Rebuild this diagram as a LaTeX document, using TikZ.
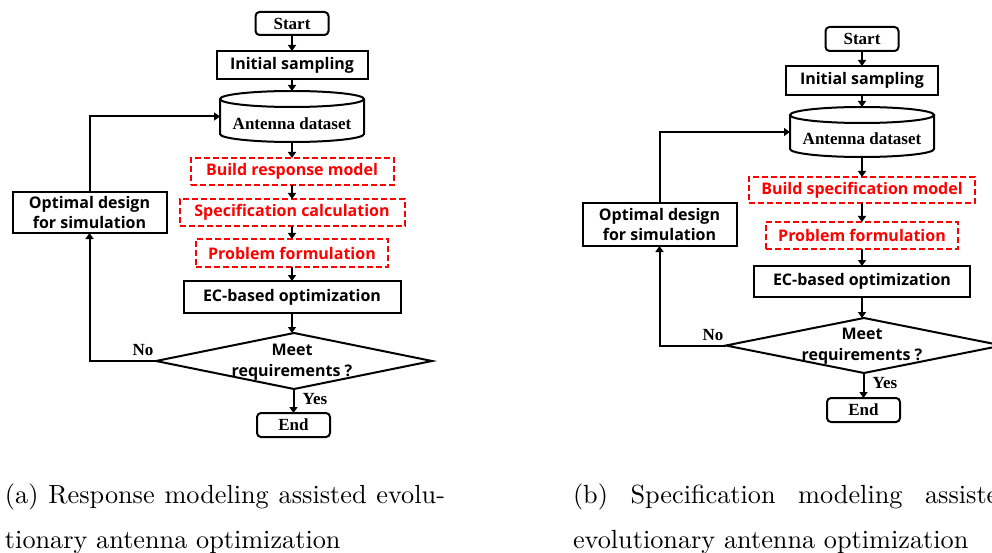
\documentclass[tikz,border=0pt]{standalone}
\usepackage{fontspec}
\usetikzlibrary{arrows.meta}
\newfontfamily\boxsans{Open Sans}
\newfontfamily\boxserif{Liberation Serif}
\newfontfamily\capfont{lmroman10-regular}[Extension=.otf]

\begin{document}
\begin{tikzpicture}[x=1pt,y=-1pt,
  every node/.style={inner sep=0pt, outer sep=0pt},
  plain/.style={line width=2pt},
  flow/.style={line width=2pt, -{Triangle[length=6pt,width=8pt]}},
  procbox/.style={draw, line width=2pt, align=center,
    font=\boxsans\bfseries\fontsize{16}{20}\selectfont},
  modelbox/.style={draw=red, text=red, line width=2pt,
    dash pattern=on 6pt off 3pt,
    font=\boxsans\bfseries\fontsize{16}{20}\selectfont},
  termbox/.style={draw, line width=2pt, rounded corners=4pt,
    font=\boxserif\bfseries\fontsize{17}{20}\selectfont},
  drumtext/.style={font=\boxserif\bfseries\fontsize{17}{20}\selectfont},
  decision/.style={align=center,
    font=\boxsans\bfseries\fontsize{16}{21}\selectfont},
  tag/.style={font=\boxserif\bfseries\fontsize{17}{20}\selectfont},
  captext/.style={anchor=base west, font=\capfont\fontsize{26.25}{30}\selectfont}
]
\useasboundingbox (0,0) rectangle (992,553);
\clip (0,0) rectangle (992,553);

% ---------------- (a) response modelling flow ----------------
\node[termbox, minimum width=73pt, minimum height=23pt] (startA) at (292,23.5) {Start};
\node[procbox, minimum width=151pt, minimum height=28pt] (initA) at (292,65) {Initial sampling};
\node[minimum width=144pt, minimum height=51pt] (dataA) at (292,116.5) {};
\node[drumtext] (dataAtxt) at (292,124) {Antenna dataset};
\node[modelbox, minimum width=203pt, minimum height=27pt] (respA) at (292,171.5) {Build response model};
\node[modelbox, minimum width=225pt, minimum height=27pt] (specA) at (292,212.5) {Specification calculation};
\node[modelbox, minimum width=192pt, minimum height=28pt] (probA) at (292,253) {Problem formulation};
\node[procbox, minimum width=217pt, minimum height=32pt] (ecA) at (292,297) {EC-based optimization};
\node[minimum width=276pt, minimum height=56pt] (decA) at (294,361) {};
\node[decision] (decAtxt) at (292,362.5) {Meet\\requirements ?};
\node[termbox, minimum width=73pt, minimum height=24pt] (endA) at (293.5,425) {End};
\node[procbox, minimum width=154pt, minimum height=41pt] (optA) at (89.5,212.5) {Optimal design\\for simulation};
\node[tag] (noA) at (143,350) {No};
\node[tag] (yesA) at (315,399) {Yes};

% dataset drum
\draw[plain] ([yshift=-8pt]dataA.north) ellipse [x radius=72pt, y radius=8pt];
\draw[plain] ([yshift=-8pt]dataA.north west) -- ([yshift=8pt]dataA.south west)
  arc[start angle=180, end angle=360, x radius=72pt, y radius=8pt]
  -- ([yshift=-8pt]dataA.north east);
% decision diamond
\draw[plain, line join=miter] (decA.north) -- (decA.east) -- (decA.south) -- (decA.west) -- cycle;

\draw[flow] (startA) -- (initA);
\draw[flow] (initA) -- (dataA);
\draw[flow] (dataA) -- (respA);
\draw[flow] (respA) -- (specA);
\draw[flow] (specA) -- (probA);
\draw[flow] (probA) -- (ecA);
\draw[flow] (ecA.south) -- (ecA.south |- decA.north);
\draw[flow] (decA.south -| endA.north) -- (endA.north);
\draw[flow] (decA.west) -| (optA.south);
\draw[flow] (optA.north) |- (dataA.west);

% ---------------- (b) specification modelling flow ----------------
\node[termbox, minimum width=73pt, minimum height=24pt] (startB) at (862,39) {Start};
\node[procbox, minimum width=152pt, minimum height=29pt] (initB) at (862,80.5) {Initial sampling};
\node[minimum width=144pt, minimum height=50pt] (dataB) at (862,132) {};
\node[drumtext] (dataBtxt) at (862,139) {Antenna dataset};
\node[modelbox, minimum width=226pt, minimum height=26pt] (specmB) at (862,190) {Build specification model};
\node[modelbox, minimum width=192pt, minimum height=27pt] (probB) at (862,235.5) {Problem formulation};
\node[procbox, minimum width=216pt, minimum height=31pt] (ecB) at (862,281.5) {EC-based optimization};
\node[minimum width=276pt, minimum height=55pt] (decB) at (864,345.5) {};
\node[decision] (decBtxt) at (862,346.5) {Meet\\requirements ?};
\node[termbox, minimum width=73pt, minimum height=24pt] (endB) at (863.5,410) {End};
\node[procbox, minimum width=154pt, minimum height=43pt] (optB) at (659.5,224.5) {Optimal design\\for simulation};
\node[tag] (noB) at (713,335) {No};
\node[tag] (yesB) at (885,383) {Yes};

\draw[plain] ([yshift=-8pt]dataB.north) ellipse [x radius=72pt, y radius=8pt];
\draw[plain] ([yshift=-8pt]dataB.north west) -- ([yshift=8pt]dataB.south west)
  arc[start angle=180, end angle=360, x radius=72pt, y radius=8pt]
  -- ([yshift=-8pt]dataB.north east);
\draw[plain, line join=miter] (decB.north) -- (decB.east) -- (decB.south) -- (decB.west) -- cycle;

\draw[flow] (startB) -- (initB);
\draw[flow] (initB) -- (dataB);
\draw[flow] (dataB) -- (specmB);
\draw[flow] (specmB) -- (probB);
\draw[flow] (probB) -- (ecB);
\draw[flow] (ecB.south) -- (ecB.south |- decB.north);
\draw[flow] (decB.south -| endB.north) -- (endB.north);
\draw[flow] (decB.west) -| (optB.south);
\draw[flow] (optB.north) |- (dataB.west);

% ---------------- sub-captions (justified first lines) ----------------
\node[captext] (capA1) at (5,503) {\makebox[440pt][s]{(a) Response modeling assisted evolu-}};
\node[captext] (capA2) at (5,548) {tionary antenna optimization};
\node[captext] (capB1) at (573,503) {\makebox[440pt][s]{(b) Specification modeling assisted}};
\node[captext] (capB2) at (573,548) {evolutionary antenna optimization};
\end{tikzpicture}
\end{document}
